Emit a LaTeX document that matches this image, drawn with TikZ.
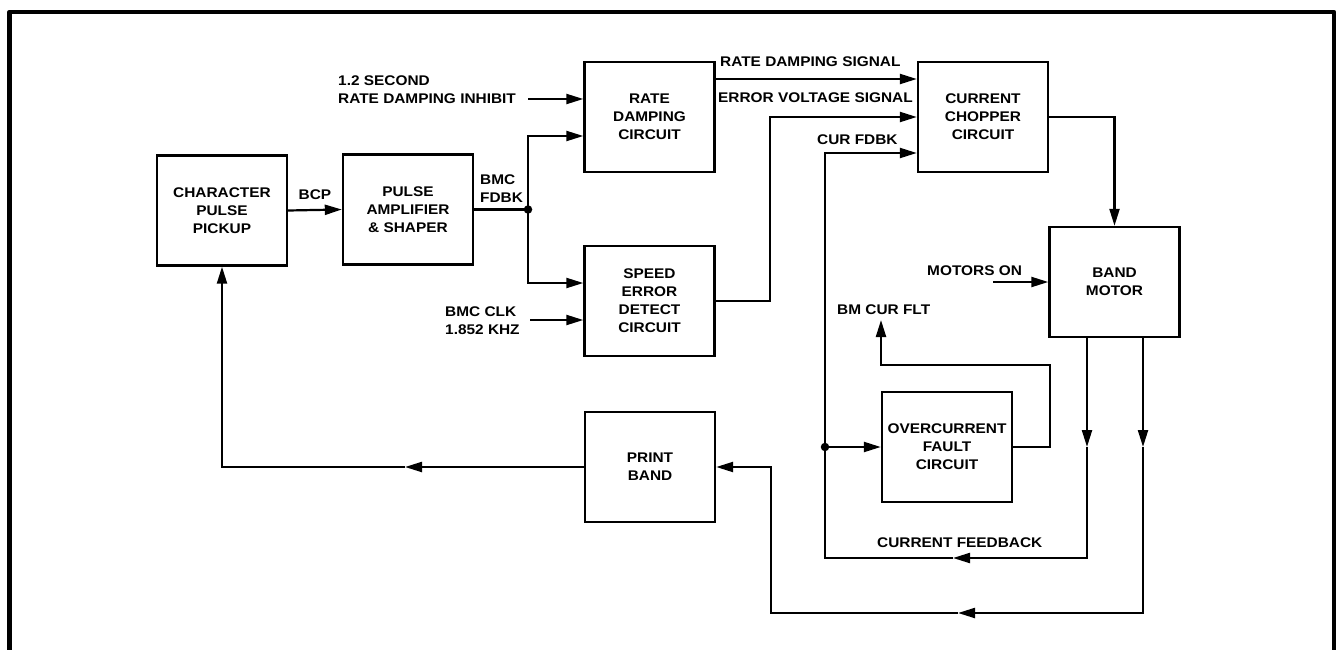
\documentclass[tikz,border=0pt]{standalone}
\usepackage{fontspec}
\newfontfamily\lblfont[FakeStretch=1.1]{Liberation Sans}
\usetikzlibrary{arrows.meta}
\begin{document}
\begin{tikzpicture}[x=1pt,y=-1pt,
  blk/.style={draw, line width=2.4pt, minimum width=130pt, minimum height=110pt,
    align=center, inner sep=0pt, font=\lblfont\bfseries\fontsize{14}{18}\selectfont},
  txt/.style={inner sep=0pt, font=\lblfont\bfseries\fontsize{14}{18}\selectfont},
  conn/.style={line width=2.2pt, line join=miter},
  arr/.style={conn, -{Triangle[length=17pt,width=10pt]}},
  dot/.style={circle, fill, inner sep=0pt, minimum size=8.5pt}
]
\useasboundingbox (0,0) rectangle (1338,650);
% frame
\draw[line width=4.5pt, line join=round] (9.5,650) -- (9.5,12) -- (1334,12) -- (1334,650);

% blocks
\node[blk] (pickup) at (222,210.5) {CHARACTER\\PULSE\\PICKUP};
\node[blk] (pulse) at (408,209.5) {PULSE\\AMPLIFIER\\\& SHAPER};
\node[blk] (rate) at (649.5,117) {RATE\\DAMPING\\CIRCUIT};
\node[blk] (speed) at (649.5,301) {SPEED\\ERROR\\DETECT\\CIRCUIT};
\node[blk] (print) at (650,467) {PRINT\\BAND};
\node[blk] (chop) at (983,117) {CURRENT\\CHOPPER\\CIRCUIT};
\node[blk] (motor) at (1114.5,282) {BAND\\MOTOR};
\node[blk] (overc) at (947,447) {OVERCURRENT\\FAULT\\CIRCUIT};

% labels
\node[txt, anchor=center] (lbcp) at (315,195) {BCP};
\node[txt, anchor=west, align=left] (linh) at (338,90) {1.2 SECOND\\RATE DAMPING INHIBIT};
\node[txt, anchor=west, align=left] (lfdbk) at (480,189) {BMC\\FDBK};
\node[txt, anchor=west, align=left] (lclk) at (445,320.5) {BMC CLK\\1.852 KHZ};
\node[txt, anchor=base west] (lrds) at (720,67) {RATE DAMPING SIGNAL};
\node[txt, anchor=base west] (levs) at (718,103) {ERROR VOLTAGE SIGNAL};
\node[txt, anchor=base west] (lcur) at (817,145) {CUR FDBK};
\node[txt, anchor=base west] (lmon) at (927,275) {MOTORS ON};
\node[txt, anchor=base west] (lflt) at (837,314) {BM CUR FLT};
\node[txt, anchor=base west] (lcfb) at (877,547) {CURRENT FEEDBACK};

% coordinates
\coordinate (inhS) at (528,99);
\coordinate (j1) at (528,209.5);
\coordinate (j1T) at (528,136);
\coordinate (j1B) at (528,283);
\coordinate (clkS) at (530,320);
\coordinate (rdy) at (0,79);
\coordinate (evB) at (770,301);
\coordinate (cfT) at (825,153);
\coordinate (j2) at (825,447);
\coordinate (cfB) at (825,558);
\coordinate (m1A) at (1087,447);
\coordinate (m1B) at (1087,558);
\coordinate (cfA) at (953,558);
\coordinate (m2A) at (1143,447);
\coordinate (m2B) at (1143,613);
\coordinate (pbA) at (958,613);
\coordinate (pbB) at (771,613);
\coordinate (pbLA) at (405,467);
\coordinate (chR) at (1114.5,117);
\coordinate (ocR) at (1050,447);
\coordinate (ocT) at (1050,365);
\coordinate (fltB) at (881,365);
\coordinate (fltT) at (881,320);
\coordinate (monS) at (993,282);

% connectors
\draw[arr] (pickup.east) -- (pulse.west);
\draw[conn] (pulse.east) -- (j1);
\node[dot] (dj1) at (j1) {};
\draw[arr] (j1) -- (j1T) -- (rate.west |- j1T);
\draw[arr] (j1) -- (j1B) -- (speed.west |- j1B);
\draw[arr] (inhS) -- (rate.west |- inhS);
\draw[arr] (clkS) -- (speed.west |- clkS);
\draw[arr] (rate.east |- rdy) -- (chop.west |- rdy);
\draw[arr] (speed.east) -- (evB) -- (evB |- chop.west) -- (chop.west);
\draw[arr] (chop.east) -- (chR) -- (motor.north);
\draw[arr] (monS) -- (motor.west);

% current feedback loop
\draw[arr] (motor.south -| m1A) -- (m1A);
\draw[arr] (m1A) -- (m1B) -- (cfA);
\draw[arr] (cfA) -- (cfB) -- (cfT) -- (chop.west |- cfT);
\node[dot] (dj2) at (j2) {};
\draw[arr] (j2) -- (overc.west);
\draw[arr] (overc.east) -- (ocR) -- (ocT) -- (fltB) -- (fltT);

% print band loop
\draw[arr] (motor.south -| m2A) -- (m2A);
\draw[arr] (m2A) -- (m2B) -- (pbA);
\draw[arr] (pbA) -- (pbB) -- (pbB |- print.east) -- (print.east);
\draw[arr] (print.west) -- (pbLA);
\draw[arr] (pbLA) -- (pickup.south |- pbLA) -- (pickup.south);
\end{tikzpicture}
\end{document}
